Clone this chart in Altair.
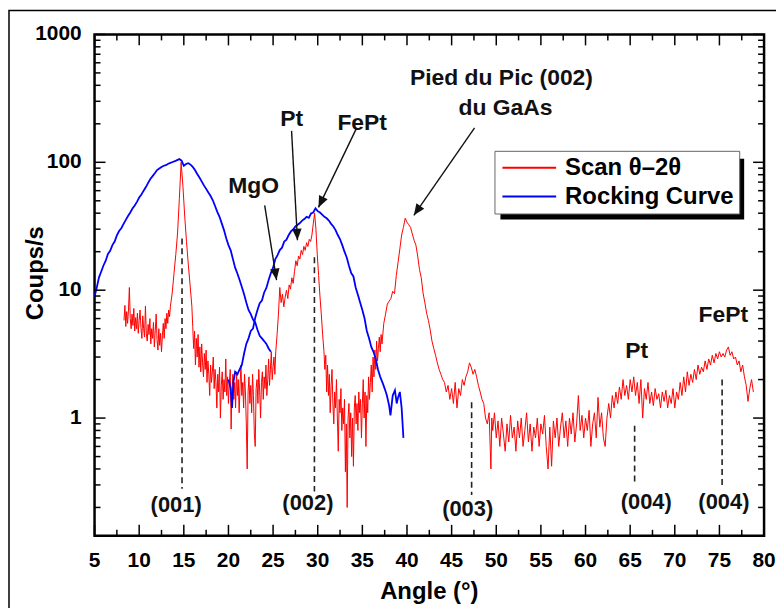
import math
import altair as alt
import pandas as pd

# ---------------- data ----------------
series_names = ["Scan θ–2θ", "Rocking Curve"]
series_colors = ["#ff0000", "#0000ff"]

# Scan theta-2theta (angle, counts)
red_scan = [
    (8.3, 5.8), (8.4, 7.6), (8.5, 5.2), (8.6, 6.8), (8.7, 5.5), (8.8, 7.0), (8.9, 10.5), (9.0, 6.0),
    (9.1, 5.0), (9.2, 6.5), (9.3, 5.3), (9.4, 7.2), (9.5, 4.8), (9.6, 6.1), (9.7, 5.0), (9.8, 6.6),
    (9.9, 4.6), (10.0, 5.8), (10.1, 7.0), (10.2, 5.1), (10.3, 4.2), (10.4, 6.3), (10.5, 5.0), (10.6, 4.3),
    (10.7, 7.5), (10.8, 4.6), (10.9, 4.0), (11.0, 5.4), (11.1, 4.5), (11.2, 6.0), (11.3, 3.8), (11.4, 5.0),
    (11.5, 4.2), (11.6, 5.6), (11.7, 3.6), (11.8, 4.8), (11.9, 6.5), (12.0, 4.1), (12.1, 3.4), (12.2, 5.0),
    (12.3, 3.7), (12.4, 4.6), (12.5, 3.3), (12.6, 4.4), (12.7, 5.5), (12.8, 4.2), (12.9, 6.0), (13.0, 5.0),
    (13.1, 6.6), (13.2, 5.5), (13.3, 7.0), (13.4, 6.2), (13.5, 7.5), (13.7, 9.5), (13.9, 13.5), (14.1, 19.0),
    (14.3, 28.0), (14.5, 52.0), (14.7, 100.0), (14.9, 65.0), (15.1, 38.0), (15.3, 24.0), (15.5, 16.0),
    (15.7, 11.0), (15.9, 7.5), (16.0, 5.2), (16.1, 3.5), (16.2, 4.8), (16.3, 2.6), (16.4, 4.2), (16.5, 3.0),
    (16.6, 4.5), (16.7, 2.5), (16.8, 3.6), (16.9, 2.3), (17.0, 3.8), (17.1, 2.7), (17.2, 2.1), (17.3, 3.2),
    (17.4, 2.4), (17.5, 3.4), (17.6, 1.9), (17.7, 2.8), (17.8, 2.2), (17.9, 1.5), (18.0, 2.6), (18.1, 1.9),
    (18.2, 2.3), (18.3, 3.0), (18.4, 1.7), (18.5, 2.4), (18.6, 1.9), (18.7, 1.2), (18.8, 2.2), (18.9, 1.6),
    (19.0, 2.5), (19.1, 1.0), (19.2, 1.8), (19.3, 2.3), (19.4, 1.4), (19.5, 2.0), (19.6, 1.6), (19.7, 2.9),
    (19.8, 1.5), (19.9, 2.1), (20.0, 1.3), (20.1, 1.9), (20.2, 2.4), (20.3, 0.82), (20.4, 1.7), (20.5, 2.2),
    (20.6, 1.4), (20.7, 1.9), (20.8, 1.2), (20.9, 2.3), (21.0, 1.5), (21.1, 2.0), (21.2, 1.1), (21.3, 1.8),
    (21.4, 2.6), (21.5, 1.5), (21.6, 1.9), (21.7, 1.2), (21.8, 2.2), (21.9, 1.6), (22.0, 0.9), (22.1, 0.4),
    (22.2, 1.6), (22.3, 2.1), (22.4, 1.3), (22.5, 1.8), (22.6, 1.1), (22.7, 2.2), (22.8, 1.5), (22.9, 0.75),
    (23.0, 0.6), (23.1, 1.7), (23.2, 2.0), (23.3, 1.3), (23.4, 2.4), (23.5, 1.6), (23.6, 1.0), (23.7, 1.9),
    (23.8, 2.3), (23.9, 1.4), (24.0, 2.1), (24.1, 1.7), (24.2, 2.6), (24.3, 1.5), (24.4, 2.0), (24.5, 2.9),
    (24.6, 1.8), (24.7, 2.4), (24.8, 3.3), (24.9, 2.0), (25.0, 2.5), (25.1, 3.0), (25.2, 2.2), (25.3, 3.3),
    (25.45, 4.5), (25.6, 6.5), (25.75, 10.5), (25.9, 8.0), (26.05, 9.3), (26.2, 7.4), (26.35, 8.8),
    (26.5, 10.0), (26.65, 8.6), (26.8, 11.0), (26.95, 10.2), (27.1, 12.5), (27.25, 11.3), (27.4, 14.0),
    (27.55, 17.0), (27.7, 15.5), (27.85, 18.5), (28.0, 17.5), (28.15, 20.5), (28.3, 19.0), (28.45, 22.0),
    (28.6, 20.5), (28.75, 23.5), (28.9, 22.0), (29.05, 25.0), (29.2, 24.0), (29.35, 27.0), (29.5, 33.0),
    (29.65, 40.0), (29.8, 30.0), (29.95, 19.0), (30.1, 13.0), (30.25, 9.0), (30.4, 6.5), (30.55, 4.5),
    (30.7, 3.3), (30.8, 2.4), (30.9, 3.1), (31.0, 1.6), (31.1, 2.6), (31.2, 1.5), (31.3, 2.2), (31.4, 1.1),
    (31.5, 1.8), (31.6, 2.4), (31.7, 1.3), (31.8, 0.9), (31.9, 1.6), (32.0, 1.2), (32.1, 2.0), (32.2, 1.0),
    (32.3, 0.55), (32.4, 1.4), (32.5, 1.1), (32.6, 1.7), (32.7, 0.8), (32.8, 1.2), (32.9, 0.9), (33.0, 1.4),
    (33.1, 0.38), (33.2, 0.9), (33.3, 0.2), (33.4, 1.0), (33.5, 1.3), (33.6, 0.7), (33.7, 1.1), (33.8, 0.5),
    (33.9, 1.0), (34.0, 0.42), (34.1, 1.2), (34.2, 1.5), (34.3, 0.9), (34.4, 1.3), (34.5, 0.8), (34.6, 1.6),
    (34.7, 1.1), (34.8, 1.4), (34.9, 0.7), (35.0, 1.3), (35.1, 2.0), (35.2, 1.0), (35.3, 1.6), (35.4, 0.6),
    (35.5, 1.5), (35.6, 1.1), (35.7, 2.1), (35.8, 1.4), (35.9, 1.9), (36.0, 2.6), (36.1, 1.6), (36.2, 3.0),
    (36.3, 2.1), (36.4, 3.4), (36.5, 2.4), (36.6, 4.0), (36.7, 2.8), (36.8, 3.5), (36.9, 4.3), (37.0, 3.3),
    (37.1, 4.5), (37.2, 3.8), (37.4, 5.5), (37.6, 6.5), (37.8, 7.8), (38.0, 8.2), (38.2, 8.6), (38.4, 9.8),
    (38.6, 9.4), (38.8, 13.0), (39.0, 16.5), (39.2, 21.0), (39.4, 27.0), (39.6, 31.0), (39.8, 36.5),
    (40.0, 34.0), (40.2, 32.5), (40.4, 31.0), (40.6, 27.5), (40.8, 24.5), (41.0, 22.5), (41.2, 18.5),
    (41.4, 14.5), (41.6, 12.5), (41.8, 9.5), (42.0, 8.0), (42.2, 6.6), (42.4, 5.8), (42.6, 4.9), (42.8, 4.0),
    (43.0, 3.5), (43.2, 3.1), (43.4, 2.7), (43.6, 2.4), (43.8, 2.2), (44.0, 2.0), (44.2, 1.9), (44.4, 1.6),
    (44.6, 1.8), (44.8, 1.4), (45.0, 1.7), (45.2, 1.3), (45.4, 1.9), (45.6, 1.2), (45.8, 1.7), (46.0, 1.5),
    (46.2, 2.0), (46.4, 1.8), (46.6, 2.1), (46.8, 2.3), (47.0, 2.7), (47.2, 2.5), (47.4, 2.2), (47.6, 2.4),
    (47.8, 2.1), (48.0, 1.8), (48.2, 1.6), (48.4, 1.4), (48.6, 1.3), (48.8, 1.0), (49.0, 0.9), (49.2, 1.1),
    (49.4, 0.4), (49.5, 1.0), (49.6, 0.8), (49.8, 1.1), (50.0, 0.7), (50.2, 0.95), (50.4, 0.6), (50.6, 1.0),
    (50.8, 0.75), (51.0, 0.55), (51.2, 0.9), (51.4, 0.65), (51.6, 1.05), (51.8, 0.7), (52.0, 0.85),
    (52.2, 0.55), (52.4, 0.95), (52.6, 0.7), (52.8, 1.0), (53.0, 0.6), (53.2, 0.8), (53.4, 1.1), (53.6, 0.65),
    (53.8, 0.9), (54.0, 0.55), (54.2, 0.85), (54.4, 0.7), (54.6, 1.0), (54.8, 0.6), (55.0, 0.9), (55.2, 0.75),
    (55.4, 1.05), (55.6, 0.6), (55.8, 0.4), (56.0, 0.85), (56.2, 0.42), (56.4, 0.95), (56.6, 0.7), (56.8, 1.0),
    (57.0, 0.6), (57.2, 0.85), (57.4, 1.1), (57.6, 0.7), (57.8, 0.95), (58.0, 0.6), (58.2, 1.0), (58.4, 0.75),
    (58.6, 1.1), (58.8, 0.65), (59.0, 0.9), (59.2, 1.5), (59.4, 0.8), (59.6, 1.05), (59.8, 0.7), (60.0, 1.0),
    (60.2, 0.8), (60.4, 1.15), (60.6, 0.6), (60.8, 0.9), (61.0, 1.1), (61.2, 0.7), (61.4, 1.45), (61.6, 0.85),
    (61.8, 1.1), (62.0, 0.7), (62.2, 0.6), (62.4, 1.0), (62.6, 1.3), (62.8, 1.0), (63.0, 1.5), (63.2, 1.2),
    (63.4, 1.6), (63.6, 1.3), (63.8, 1.75), (64.0, 1.4), (64.2, 2.0), (64.4, 1.5), (64.6, 1.8), (64.8, 1.4),
    (65.0, 2.0), (65.2, 1.6), (65.4, 2.1), (65.6, 1.5), (65.8, 1.9), (66.0, 1.3), (66.2, 2.0), (66.4, 1.0),
    (66.6, 1.7), (66.8, 1.4), (67.0, 1.9), (67.2, 1.3), (67.4, 1.6), (67.6, 1.25), (67.8, 1.7), (68.0, 1.4),
    (68.2, 1.55), (68.4, 1.2), (68.6, 1.6), (68.8, 1.35), (69.0, 1.65), (69.2, 1.2), (69.4, 1.5), (69.6, 1.3),
    (69.8, 1.7), (70.0, 1.2), (70.2, 1.6), (70.4, 1.4), (70.6, 1.9), (70.8, 1.5), (71.0, 2.1), (71.2, 1.6),
    (71.4, 2.3), (71.6, 1.8), (71.8, 2.2), (72.0, 1.9), (72.2, 2.4), (72.4, 2.0), (72.6, 2.6), (72.8, 2.2),
    (73.0, 2.5), (73.2, 2.3), (73.4, 2.8), (73.6, 2.4), (73.8, 2.9), (74.0, 2.6), (74.2, 3.1), (74.4, 2.7),
    (74.6, 3.2), (74.8, 2.9), (75.0, 3.3), (75.2, 3.0), (75.4, 3.2), (75.6, 3.0), (75.8, 3.4), (76.0, 3.6),
    (76.2, 3.1), (76.4, 3.3), (76.6, 2.9), (76.8, 3.0), (77.0, 2.6), (77.2, 2.8), (77.4, 2.3), (77.6, 2.6),
    (77.8, 2.1), (78.0, 1.8), (78.2, 1.35), (78.4, 1.7), (78.6, 2.0), (78.8, 1.6),
]

# Rocking curve, first scan (around 15 deg)
rocking_a = [
    (5.0, 8.9), (5.25, 10.5), (5.5, 12.6), (5.75, 14.0), (6.0, 15.6), (6.25, 17.0), (6.5, 19.2),
    (6.75, 20.3), (7.0, 22.5), (7.25, 24.0), (7.5, 26.8), (7.75, 29.0), (8.0, 30.5), (8.25, 33.0),
    (8.5, 35.5), (8.75, 38.0), (9.0, 40.5), (9.25, 43.5), (9.5, 46.0), (9.75, 49.0), (10.0, 53.0),
    (10.25, 56.0), (10.5, 60.0), (10.75, 64.0), (11.0, 69.0), (11.25, 74.0), (11.5, 78.0), (11.75, 82.0),
    (12.0, 87.0), (12.25, 89.5), (12.5, 92.0), (12.75, 94.0), (13.0, 95.0), (13.25, 97.5), (13.5, 99.0),
    (13.75, 100.5), (14.0, 102.0), (14.25, 104.0), (14.5, 106.0), (14.75, 103.0), (15.0, 94.0),
    (15.25, 97.0), (15.5, 98.5), (15.75, 96.0), (16.0, 92.0), (16.25, 87.0), (16.5, 81.0), (16.75, 76.0),
    (17.0, 71.0), (17.25, 66.0), (17.5, 62.0), (17.75, 58.0), (18.0, 54.5), (18.25, 50.5), (18.5, 45.5),
    (18.75, 41.0), (19.0, 37.5), (19.25, 33.3), (19.5, 29.5), (19.75, 25.5), (20.0, 22.5), (20.25, 20.5),
    (20.5, 17.5), (20.75, 15.0), (21.0, 13.5), (21.25, 12.0), (21.5, 10.6), (21.75, 9.3), (22.0, 8.0),
    (22.25, 7.0), (22.5, 6.5), (22.75, 5.9), (23.0, 5.6), (23.25, 4.9), (23.5, 4.4), (23.75, 4.2),
    (24.0, 4.0), (24.25, 3.8), (24.5, 3.5), (24.75, 3.3),
]

# Rocking curve, second scan (around 30 deg)
rocking_b = [
    (20.0, 2.0), (20.25, 1.7), (20.4, 1.2), (20.55, 1.9), (20.75, 2.3), (21.0, 2.2), (21.25, 2.4),
    (21.5, 2.6), (21.75, 3.2), (22.0, 3.8), (22.25, 4.2), (22.5, 4.8), (22.75, 5.0), (23.0, 6.1),
    (23.25, 7.0), (23.5, 7.9), (23.75, 8.3), (24.0, 9.6), (24.25, 10.4), (24.5, 12.0), (24.75, 13.6),
    (25.0, 15.0), (25.25, 17.5), (25.5, 18.8), (25.75, 20.6), (26.0, 21.5), (26.25, 24.0), (26.5, 24.8),
    (26.75, 27.0), (27.0, 28.8), (27.25, 29.8), (27.5, 31.5), (27.75, 32.5), (28.0, 33.5), (28.25, 35.0),
    (28.5, 36.0), (28.75, 37.5), (29.0, 36.8), (29.25, 39.8), (29.5, 40.5), (29.75, 43.6), (30.0, 41.5),
    (30.25, 40.5), (30.5, 39.0), (30.75, 37.5), (31.0, 36.5), (31.25, 35.0), (31.5, 33.0), (31.75, 31.5),
    (32.0, 29.5), (32.25, 27.0), (32.5, 25.0), (32.75, 22.5), (33.0, 20.0), (33.25, 18.0), (33.5, 15.5),
    (33.75, 13.6), (34.0, 12.8), (34.25, 10.5), (34.5, 9.2), (34.75, 8.0), (35.0, 7.0), (35.25, 6.0),
    (35.5, 4.8), (35.75, 4.2), (36.0, 3.6), (36.25, 3.3), (36.5, 2.9), (36.75, 2.4), (37.0, 2.1),
    (37.25, 1.9), (37.5, 1.7), (37.75, 1.5), (38.0, 1.25), (38.15, 1.05), (38.4, 1.5), (38.65, 1.65),
    (38.85, 1.3), (39.0, 1.45), (39.2, 1.6), (39.4, 1.2), (39.6, 0.7),
]

# dashed peak markers
peak_x = [14.8, 29.63, 47.24, 65.5, 75.3]
peak_top = [25.4, 18.1, 1.33, 0.87, 2.0]
peak_bottom = [0.28, 0.266, 0.25, 0.30, 0.28]
peak_labels = ["(001)", "(002)", "(003)", "(004)", "(004)"]
peak_label_x = [14.14, 28.9, 46.8, 66.8, 75.5]
peak_label_y = [0.207, 0.215, 0.196, 0.222, 0.222]

# annotations
note_text = ["MgO", "Pt", "FePt", "Pied du Pic (002)", "du GaAs", "Pt", "FePt"]
note_x = [22.83, 27.07, 34.98, 50.58, 51.03, 65.74, 75.43]
note_y = [65.8, 218.0, 203.0, 454.0, 266.0, 3.32, 6.43]

arrow_x0 = [24.06, 27.07, 34.31, 47.57]
arrow_y0 = [46.0, 176.0, 182.5, 185.7]
arrow_x1 = [25.39, 27.73, 30.08, 40.77]
arrow_y1 = [12.0, 24.6, 44.4, 38.5]
arrow_angle = [170.9, 176.9, 205.7, 214.7]

# axes
x_title = "Angle (°)"
y_title = "Coups/s"
x_domain = [5, 80]
y_domain = [0.12, 1000]
x_major = [5, 10, 15, 20, 25, 30, 35, 40, 45, 50, 55, 60, 65, 70, 75, 80]
x_minor = [7.5, 12.5, 17.5, 22.5, 27.5, 32.5, 37.5, 42.5, 47.5, 52.5, 57.5, 62.5, 67.5, 72.5, 77.5]
y_major = [1, 10, 100, 1000]
y_minor = [0.2, 0.3, 0.4, 0.5, 0.6, 0.7, 0.8, 0.9,
           2, 3, 4, 5, 6, 7, 8, 9,
           20, 30, 40, 50, 60, 70, 80, 90,
           200, 300, 400, 500, 600, 700, 800, 900]
x_tick_labels = ["5", "10", "15", "20", "25", "30", "35", "40",
                 "45", "50", "55", "60", "65", "70", "75", "80"]
y_tick_labels = ["1", "10", "100", "1000"]

# ---------------- layout / style ----------------
FONT = "Liberation Sans"
W, H = 673, 504
MAJ, MIN = 11, 6
LEG_X, LEG_Y = 402, 117
LEG_W, LEG_H = 245, 63

xs = alt.Scale(domain=x_domain, nice=False, zero=False)
ys = alt.Scale(type="log", domain=y_domain, nice=False)
color_scale = alt.Scale(domain=series_names, range=series_colors)

legend = alt.Legend(
    orient="none", legendX=LEG_X, legendY=LEG_Y, title=None,
    symbolType="M-1,0H5", symbolSize=324, symbolStrokeWidth=2,
    labelFont=FONT, labelFontWeight="bold", labelFontSize=24, labelColor="black",
    labelOffset=42, labelLimit=400, rowPadding=5, padding=5,
    fillColor="white", strokeColor="#666666",
)


def X(field):
    return alt.X(field, scale=xs, axis=None)


def Y(field):
    return alt.Y(field, scale=ys, axis=None)


# ---------------- inward tick segments, expressed in data units of the scales ----------------
x_lo, x_hi = x_domain
y_lo, y_hi = y_domain


def dx(px):  # data width of px pixels on the linear angle scale
    return px * (x_hi - x_lo) / W


def fy(px):  # multiplicative factor of px pixels on the log count scale
    return 10 ** (px * math.log10(y_hi / y_lo) / H)


tick_rows = []
for vals, size in ((x_major, MAJ), (x_minor, MIN)):
    for v in vals:
        tick_rows.append({"x0": v, "x1": v, "y0": y_lo, "y1": y_lo * fy(size)})   # bottom
        tick_rows.append({"x0": v, "x1": v, "y0": y_hi, "y1": y_hi / fy(size)})   # top
for vals, size in ((y_major, MAJ), (y_minor, MIN)):
    for v in vals:
        tick_rows.append({"x0": x_lo, "x1": x_lo + dx(size), "y0": v, "y1": v})   # left
        tick_rows.append({"x0": x_hi, "x1": x_hi - dx(size), "y0": v, "y1": v})   # right
df_ticks = pd.DataFrame(tick_rows)

# ---------------- data frames ----------------
df_red = pd.DataFrame(red_scan, columns=["angle", "counts"])
df_red["series"] = series_names[0]
df_a = pd.DataFrame(rocking_a, columns=["angle", "counts"])
df_a["seg"] = "a"
df_b = pd.DataFrame(rocking_b, columns=["angle", "counts"])
df_b["seg"] = "b"
df_blue = pd.concat([df_a, df_b], ignore_index=True)
df_blue["series"] = series_names[1]

df_peaks = pd.DataFrame({"x": peak_x, "top": peak_top, "bottom": peak_bottom,
                         "label": peak_labels, "lx": peak_label_x, "ly": peak_label_y})
df_notes = pd.DataFrame({"text": note_text, "x": note_x, "y": note_y})
df_arrows = pd.DataFrame({"x0": arrow_x0, "y0": arrow_y0, "x1": arrow_x1, "y1": arrow_y1,
                          "ang": arrow_angle})
df_xlab = pd.DataFrame({"xv": x_major, "t": x_tick_labels})
df_ylab = pd.DataFrame({"yv": y_major, "t": y_tick_labels})

one = alt.Data(values=[{"k": 0}])

# ---------------- layers ----------------
frame = alt.Chart(one).mark_rect(fillOpacity=0, stroke="black", strokeWidth=1.5).encode(
    x=alt.value(-86), x2=alt.value(W + 40), y=alt.value(-24), y2=alt.value(H + 80))

shadow = alt.Chart(one).mark_rect(color="black").encode(
    x=alt.value(LEG_X + 6), x2=alt.value(LEG_X + LEG_W + 6),
    y=alt.value(LEG_Y + 8), y2=alt.value(LEG_Y + LEG_H + 6))

red = alt.Chart(df_red).mark_line(strokeWidth=1.0).encode(
    x=X("angle:Q"), y=Y("counts:Q"),
    color=alt.Color("series:N", scale=color_scale, legend=legend),
)

blue = alt.Chart(df_blue).mark_line(strokeWidth=1.8).encode(
    x=X("angle:Q"), y=Y("counts:Q"),
    color=alt.Color("series:N", scale=color_scale, legend=legend),
    detail="seg:N",
)

rules = alt.Chart(df_peaks).mark_rule(strokeDash=[6, 4], strokeWidth=1.6, color="#222222").encode(
    x=X("x:Q"), y=Y("top:Q"), y2="bottom:Q",
)

peak_text = alt.Chart(df_peaks).mark_text(font=FONT, fontWeight="bold", fontSize=22,
                                          color="#111111", align="center", baseline="middle").encode(
    x=X("lx:Q"), y=Y("ly:Q"), text="label:N",
)

notes = alt.Chart(df_notes).mark_text(font=FONT, fontWeight="bold", fontSize=23,
                                      color="#111111", align="center", baseline="middle").encode(
    x=X("x:Q"), y=Y("y:Q"), text="text:N",
)

arrows = alt.Chart(df_arrows).mark_rule(color="#111111", strokeWidth=1.4).encode(
    x=X("x0:Q"), y=Y("y0:Q"), x2="x1:Q", y2="y1:Q",
)

heads = alt.Chart(df_arrows).mark_point(shape="M0,0L-0.42,1L0.42,1Z", filled=True, size=520,
                                        color="#111111", opacity=1).encode(
    x=X("x1:Q"), y=Y("y1:Q"),
    angle=alt.Angle("ang:Q", scale=None),
)

ticks = alt.Chart(df_ticks).mark_rule(color="black", strokeWidth=1.5).encode(
    x=X("x0:Q"), y=Y("y0:Q"), x2="x1:Q", y2="y1:Q",
)

x_labels = alt.Chart(df_xlab).mark_text(font=FONT, fontWeight="bold", fontSize=21, color="black",
                                        align="center", baseline="top").encode(
    x=X("xv:Q"), y=alt.value(H + 14), text="t:N")

y_labels = alt.Chart(df_ylab).mark_text(font=FONT, fontWeight="bold", fontSize=21, color="black",
                                        align="right", baseline="middle").encode(
    y=Y("yv:Q"), x=alt.value(-13), text="t:N")

x_title_mark = alt.Chart(alt.Data(values=[{"t": x_title}])).mark_text(
    font=FONT, fontWeight="bold", fontSize=24, color="black", align="center", baseline="top").encode(
    x=alt.value(W / 2), y=alt.value(H + 45), text="t:N")

y_title_mark = alt.Chart(alt.Data(values=[{"t": y_title}])).mark_text(
    font=FONT, fontWeight="bold", fontSize=24, color="black", align="center", baseline="bottom",
    angle=270).encode(
    x=alt.value(-47), y=alt.value(240), text="t:N")

chart = alt.layer(frame, shadow, red, blue, rules, peak_text, notes, arrows, heads, ticks,
                  x_labels, y_labels, x_title_mark, y_title_mark).properties(
    width=W, height=H,
    padding={"left": 87, "top": 25, "right": 12, "bottom": 71},
    autosize=alt.AutoSizeParams(type="none"),
    background="white",
).configure_view(stroke="black", strokeWidth=2.5)

chart.save("out.html", embed_options={"renderer": "svg", "actions": False})
